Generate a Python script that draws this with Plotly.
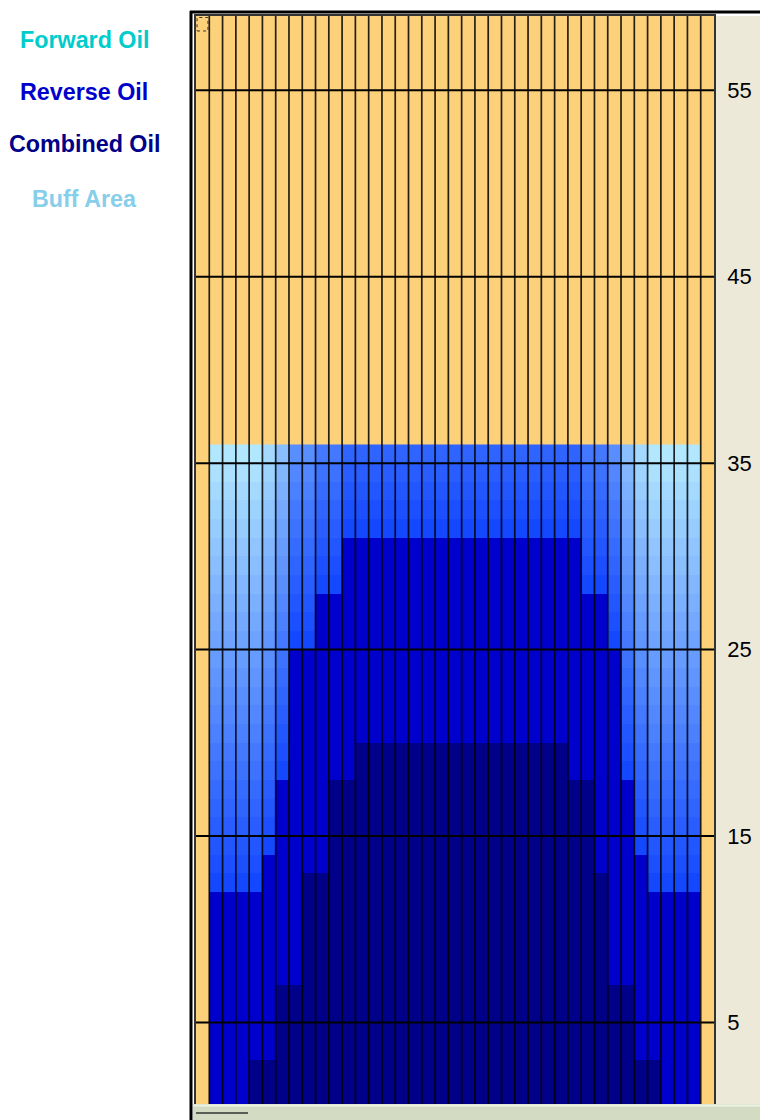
import numpy as np
import plotly.graph_objects as go

# ---------------- data ----------------
columns = list(range(1, 38))
# top of the "Combined Oil" layer per column
combined_top = [0, 0, 0, 3, 3, 7, 7, 13, 13, 18, 18,
                20, 20, 20, 20, 20, 20, 20, 20, 20, 20, 20, 20, 20, 20, 20, 20,
                18, 18, 13, 7, 7, 3, 3, 0, 0, 0]
# top of the "Reverse Oil" layer per column
reverse_top = [12, 12, 12, 12, 14, 18, 25, 25, 28, 28,
               31, 31, 31, 31, 31, 31, 31, 31, 31, 31, 31, 31, 31, 31, 31, 31, 31, 31,
               28, 28, 25, 18, 14, 12, 12, 12, 12]
# top of the "Buff Area" per column
buff_top = [36] * 37

tick_values = [5, 15, 25, 35, 45, 55]
tick_labels = ["5", "15", "25", "35", "45", "55"]

legend_names = ["Forward Oil", "Reverse Oil", "Combined Oil", "Buff Area"]
legend_colors = ["#00CCCC", "#0000CC", "#000088", "#87CEEB"]

# ---------------- styles ----------------
NAVY = "#000088"
BLUE = "#0000CD"
BUFF_LOW = "rgb(20,72,255)"
BUFF_HIGH = "rgb(178,232,255)"
YELLOW = "#FDD17A"
BEIGE = "#ECE9D8"

OFF = 8  # page body margin
W, H = 768 - OFF, 1120 - OFF
ML, MR, MT, MB = 196 - OFF, 54, 14 - OFF, 16
PW = W - ML - MR
PH = H - MT - MB
Y_RANGE = [0.63, 58.98]
X_RANGE = [-0.5, 38.5]


def px_x(px):
    return (px - OFF - ML) / PW


def px_y(py):
    return ((H - MB) - (py - OFF)) / PH


# ---------------- build cell grid ----------------
n_rows = max(buff_top)
rows = np.arange(n_rows)
z = np.full((n_rows, len(columns)), np.nan)
for j in range(len(columns)):
    for r in rows:
        if r < combined_top[j]:
            z[r, j] = -2
        elif r < reverse_top[j]:
            z[r, j] = -1
        elif r < buff_top[j]:
            z[r, j] = r - reverse_top[j]
zmax = 23
span = zmax + 2
colorscale = [
    [0.0, NAVY], [0.5 / span, NAVY],
    [0.5 / span, BLUE], [1.5 / span, BLUE],
    [2.0 / span, BUFF_LOW], [1.0, BUFF_HIGH],
]

fig = go.Figure()
fig.add_trace(go.Heatmap(
    x=columns, y=rows + 0.5, z=z, zmin=-2, zmax=zmax,
    colorscale=colorscale, showscale=False, hoverinfo="skip",
    zsmooth=False,
))

shapes = []
# right beige panel
shapes.append(dict(type="rect", xref="paper", yref="paper",
                   x0=1, x1=px_x(767), y0=0, y1=1,
                   fillcolor=BEIGE, line=dict(width=0), layer="below"))
# vertical column separators
for b in np.arange(X_RANGE[0] + 1, X_RANGE[1], 1.0):
    shapes.append(dict(type="line", xref="x", yref="paper", x0=b, x1=b, y0=0, y1=1,
                       line=dict(color="rgba(0,0,0,0.85)", width=1.7), layer="above"))
# horizontal grid lines at tick values
for v in tick_values:
    shapes.append(dict(type="line", xref="paper", yref="y", x0=0, x1=1, y0=v, y1=v,
                       line=dict(color="black", width=2), layer="above"))
# outer frame
shapes.append(dict(type="line", xref="paper", yref="paper",
                   x0=px_x(191), x1=px_x(191), y0=px_y(1120), y1=px_y(9),
                   line=dict(color="black", width=3)))
shapes.append(dict(type="line", xref="paper", yref="paper",
                   x0=px_x(190), x1=px_x(768), y0=px_y(10), y1=px_y(10),
                   line=dict(color="black", width=3)))
shapes.append(dict(type="line", xref="paper", yref="paper",
                   x0=px_x(767), x1=px_x(767), y0=0, y1=px_y(12),
                   line=dict(color="#555555", width=1)))
# bottom scrollbar strip
shapes.append(dict(type="rect", xref="paper", yref="paper",
                   x0=px_x(193), x1=px_x(768), y0=px_y(1120), y1=px_y(1104),
                   fillcolor="#D3DCC2", line=dict(width=0)))
shapes.append(dict(type="line", xref="paper", yref="paper",
                   x0=px_x(193), x1=px_x(768), y0=px_y(1105.5), y1=px_y(1105.5),
                   line=dict(color="#EEF2E4", width=2)))
shapes.append(dict(type="line", xref="paper", yref="paper",
                   x0=px_x(196), x1=px_x(248), y0=px_y(1113), y1=px_y(1113),
                   line=dict(color="#333333", width=1.5)))
# focus marker
shapes.append(dict(type="rect", xref="x", yref="paper",
                   x0=-0.42, x1=0.4, y0=px_y(29), y1=px_y(15.5),
                   line=dict(color="#333333", width=1, dash="dot")))

annotations = []
legend_y = [38, 90, 142, 197]
for name, col, py in zip(legend_names, legend_colors, legend_y):
    annotations.append(dict(
        text=name, xref="paper", yref="paper", x=px_x(84), y=px_y(py),
        xanchor="center", yanchor="middle", showarrow=False,
        font=dict(family="Arial, Liberation Sans, sans-serif", size=23.3,
                  color=col, weight="bold"),
    ))

fig.update_layout(
    width=W, height=H, autosize=False,
    margin=dict(l=ML, r=MR, t=MT, b=MB, pad=0),
    paper_bgcolor="white", plot_bgcolor=YELLOW,
    showlegend=False,
    shapes=shapes, annotations=annotations,
    xaxis=dict(range=X_RANGE, showgrid=False, zeroline=False, showticklabels=False,
               ticks="", showline=True, mirror=True, linecolor="#333333", linewidth=1.5),
    yaxis=dict(range=Y_RANGE, side="right", showgrid=False, zeroline=False,
               tickmode="array", tickvals=tick_values, ticktext=tick_labels,
               ticks="", ticklabelstandoff=7,
               tickfont=dict(family="Arial, Liberation Sans, sans-serif", size=22,
                             color="black"),
               showline=True, mirror=True, linecolor="#333333", linewidth=1.5),
)

fig.write_html("out.html")
